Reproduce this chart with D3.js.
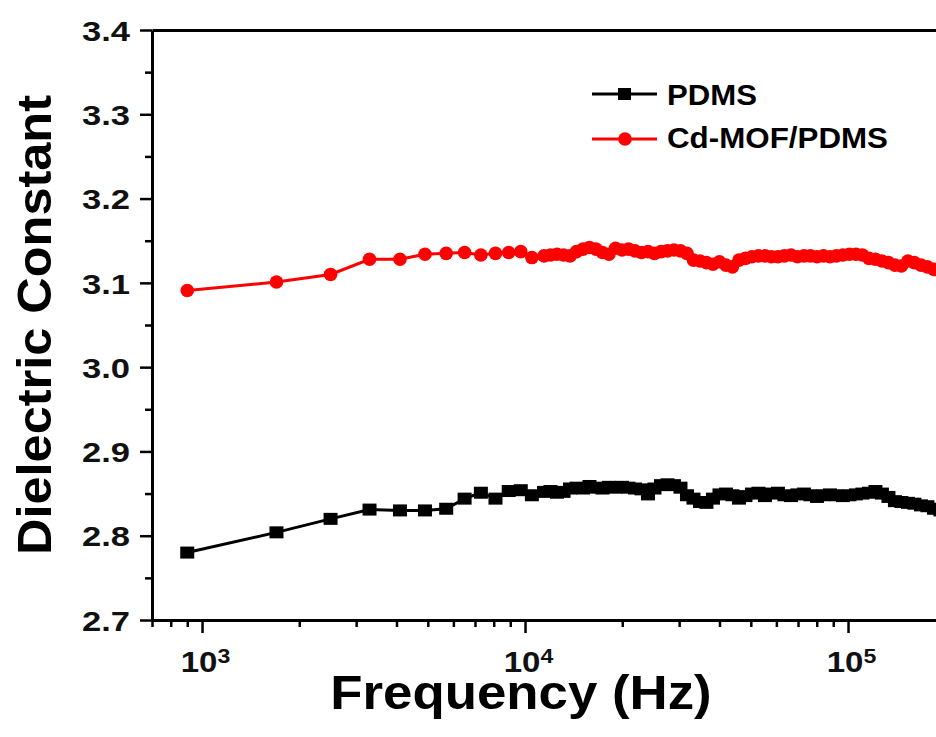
<!DOCTYPE html>
<html>
<head>
<meta charset="utf-8">
<script src="https://cdn.jsdelivr.net/npm/d3@7"></script>
<style>
  body { margin: 0; background: #fff; }
  svg { display: block; font-family: "Liberation Sans", Arial, sans-serif; font-weight: bold; }
</style>
</head>
<body>
<svg id="chart" width="936" height="737"></svg>
<script>
// values (Hz, dielectric constant)
const freq = [900, 1700, 2500, 3300, 4100, 4900, 5700, 6500, 7300, 8100, 8900, 9700, 10500,
  11450, 11990, 12560, 13160, 13780, 14430, 15120, 15830, 16580, 17370, 18190, 19060, 19960,
  20910, 21900, 22940, 24020, 25160, 26360, 27610, 28910, 30290, 31720, 33230, 34800, 36450,
  38180, 39990, 41890, 43870, 45950, 48130, 50410, 52800, 55310, 57930, 60670, 63550, 66570,
  69720, 73030, 76490, 80120, 83920, 87900, 92060, 96430, 101000, 105800, 110800, 116100,
  121600, 127300, 133400, 139700, 146300, 153300, 160500, 168200, 176100, 184500, 193200];

const pdmsValue = [2.780, 2.804, 2.820, 2.831, 2.830, 2.830, 2.832, 2.844, 2.851, 2.844, 2.853, 2.854, 2.848,
  2.852, 2.853, 2.851, 2.852, 2.856, 2.857, 2.856, 2.859, 2.857, 2.856, 2.858, 2.857, 2.858,
  2.857, 2.856, 2.855, 2.849, 2.856, 2.860, 2.861, 2.860, 2.857, 2.848, 2.844, 2.840, 2.839,
  2.844, 2.849, 2.850, 2.848, 2.844, 2.847, 2.850, 2.851, 2.847, 2.850, 2.851, 2.848, 2.847,
  2.849, 2.850, 2.848, 2.846, 2.848, 2.849, 2.848, 2.847, 2.848, 2.849, 2.850, 2.851,
  2.853, 2.850, 2.846, 2.841, 2.840, 2.839, 2.838, 2.836, 2.835, 2.832, 2.830];

const mofValue = [3.091, 3.101, 3.110, 3.128, 3.128, 3.134, 3.135, 3.136, 3.133, 3.135, 3.136, 3.137, 3.130,
  3.132, 3.133, 3.134, 3.133, 3.132, 3.137, 3.140, 3.142, 3.140, 3.136, 3.134, 3.141, 3.139,
  3.140, 3.138, 3.136, 3.137, 3.135, 3.137, 3.138, 3.139, 3.138, 3.135, 3.127, 3.126, 3.124,
  3.122, 3.125, 3.121, 3.119, 3.127, 3.129, 3.131, 3.132, 3.132, 3.131, 3.131, 3.132, 3.133,
  3.131, 3.132, 3.132, 3.131, 3.132, 3.131, 3.132, 3.133, 3.134, 3.134, 3.133, 3.129,
  3.128, 3.126, 3.124, 3.121, 3.120, 3.126, 3.124, 3.121, 3.119, 3.116, 3.114];

const seriesNames = ["PDMS", "Cd-MOF/PDMS"];
const yTicks = [2.7, 2.8, 2.9, 3.0, 3.1, 3.2, 3.3, 3.4];
const yMinorTicks = [2.75, 2.85, 2.95, 3.05, 3.15, 3.25, 3.35];
const xTicks = [1e3, 1e4, 1e5];
const xTickExp = ["3", "4", "5"];

let width = 936,
height = 737;

let plotLeft = 152, plotTop = 30, plotBottom = 620;

let svg = d3.select("#chart");

let x = d3.scaleLog()
  .domain([700, 1e6])
  .range([plotLeft, plotLeft + 323 * Math.log10(1e6 / 700)]);

let y = d3.scaleLinear()
  .domain([2.7, 3.4])
  .range([plotBottom, plotTop]);

function stretch(sel, k) {
  sel.each(function() {
    let w = this.getComputedTextLength();
    d3.select(this).attr("textLength", w * k).attr("lengthAdjust", "spacingAndGlyphs");
  });
}

// minor ticks first
let xMinor = x.ticks().filter(t => Math.abs(Math.log10(t) % 1) > 1e-6 && x(t) < width + 5);

svg.append("g")
  .attr("transform", "translate(0," + plotBottom + ")")
  .call(d3.axisBottom(x).tickValues(xMinor).tickSize(7).tickFormat(""))
  .call(g => g.select(".domain").remove())
  .selectAll("line").attr("stroke-width", 2.5);

svg.append("g")
  .attr("transform", "translate(" + plotLeft + ",0)")
  .call(d3.axisLeft(y).tickValues(yMinorTicks).tickSize(7).tickFormat(""))
  .call(g => g.select(".domain").remove())
  .selectAll("line").attr("stroke-width", 2.5);

// x axis
let xAxis = svg.append("g")
  .attr("transform", "translate(0," + plotBottom + ")")
  .call(d3.axisBottom(x).tickValues(xTicks).tickSize(13).tickSizeOuter(0).tickPadding(18).tickFormat(""));

xAxis.select(".domain").attr("stroke-width", 3);
xAxis.selectAll(".tick line").attr("stroke-width", 2.5);
xAxis.selectAll(".tick text")
  .attr("font-size", 30)
  .attr("fill", "#111")
  .each(function(d, i) {
    let t = d3.select(this);
    t.append("tspan").text("10");
    t.append("tspan").attr("font-size", 21).attr("dy", -9).text(xTickExp[i]);
  })
  .attr("dx", 3)
  .call(stretch, 1.1);

// y axis
let yAxis = svg.append("g")
  .attr("transform", "translate(" + plotLeft + ",0)")
  .call(d3.axisLeft(y).tickValues(yTicks).tickSize(12).tickSizeOuter(0).tickPadding(10).tickFormat(d3.format(".1f")));

yAxis.select(".domain").attr("stroke-width", 3);
yAxis.selectAll(".tick line").attr("stroke-width", 2.5);
yAxis.selectAll(".tick text")
  .attr("font-size", 27)
  .attr("fill", "#111")
  .attr("dy", "0.38em")
  .call(stretch, 1.28);

// top frame line
svg.append("g")
  .attr("transform", "translate(0," + plotTop + ")")
  .call(d3.axisTop(x).tickValues([]).tickSizeOuter(0))
  .select(".domain").attr("stroke-width", 3);

// series
let pdms = d3.zip(freq, pdmsValue);
let mof = d3.zip(freq, mofValue);

let line = d3.line()
  .x(d => x(d[0]))
  .y(d => y(d[1]));

svg.append("path")
  .datum(pdms)
  .attr("fill", "none")
  .attr("stroke", "#000")
  .attr("stroke-width", 3)
  .attr("d", line);

svg.append("g")
  .selectAll("rect")
  .data(pdms)
  .enter()
  .append("rect")
  .attr("x", d => x(d[0]) - 7)
  .attr("y", d => y(d[1]) - 6)
  .attr("width", 14)
  .attr("height", 12)
  .attr("fill", "#000");

svg.append("path")
  .datum(mof)
  .attr("fill", "none")
  .attr("stroke", "#f00")
  .attr("stroke-width", 3)
  .attr("d", line);

svg.append("g")
  .selectAll("circle")
  .data(mof)
  .enter()
  .append("circle")
  .attr("cx", d => x(d[0]))
  .attr("cy", d => y(d[1]))
  .attr("r", 6.8)
  .attr("fill", "#f00");

// legend
let legend = svg.append("g");

legend.append("line")
  .attr("x1", 592).attr("x2", 657).attr("y1", 94).attr("y2", 94)
  .attr("stroke", "#000").attr("stroke-width", 3);
legend.append("rect")
  .attr("x", 618).attr("y", 88).attr("width", 13).attr("height", 12)
  .attr("fill", "#000");
legend.append("text")
  .attr("x", 667).attr("y", 105)
  .attr("font-size", 29)
  .attr("textLength", 90).attr("lengthAdjust", "spacingAndGlyphs")
  .text(seriesNames[0]);

legend.append("line")
  .attr("x1", 592).attr("x2", 657).attr("y1", 139).attr("y2", 139)
  .attr("stroke", "#f00").attr("stroke-width", 3);
legend.append("circle")
  .attr("cx", 625).attr("cy", 139).attr("r", 6.8)
  .attr("fill", "#f00");
legend.append("text")
  .attr("x", 667).attr("y", 148)
  .attr("font-size", 29)
  .attr("textLength", 221).attr("lengthAdjust", "spacingAndGlyphs")
  .text(seriesNames[1]);

// axis titles
svg.append("text")
  .attr("x", 521).attr("y", 709)
  .attr("text-anchor", "middle")
  .attr("font-size", 48)
  .text("Frequency (Hz)")
  .call(stretch, 1.1);

svg.append("text")
  .attr("transform", "translate(51,325) rotate(-90)")
  .attr("text-anchor", "middle")
  .attr("font-size", 49)
  .text("Dielectric Constant")
  .call(stretch, 1.03);
</script>
</body>
</html>
